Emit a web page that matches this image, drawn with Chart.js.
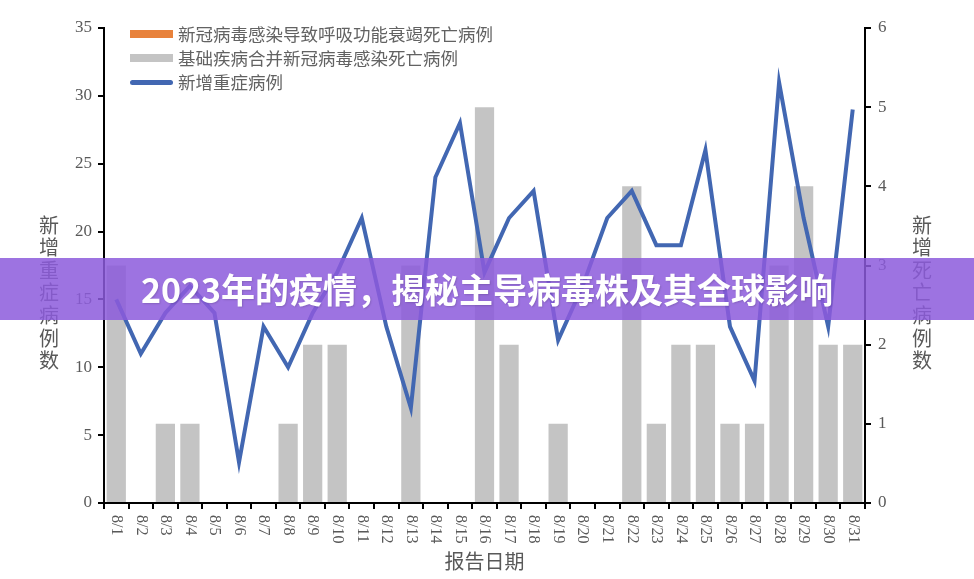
<!DOCTYPE html>
<html>
<head>
<meta charset="utf-8">
<script src="https://cdn.jsdelivr.net/npm/chart.js@4.4.1/dist/chart.umd.min.js"></script>
<style>
  html, body { margin: 0; padding: 0; background: #fff; overflow: hidden; }
  #wrap { position: relative; width: 974px; height: 579px; }
  #c { position: absolute; left: 0; top: 0; }
  .legend { position: absolute; left: 130px; top: 22px; font-family: "Noto Sans CJK SC", sans-serif;
            font-size: 17.5px; color: #626262; line-height: 24px; }
  .legend div { display: flex; align-items: center; height: 24px; }
  .legend span.sw { display: inline-block; width: 43px; margin-right: 5px; }
  .banner { position: absolute; left: 0; top: 258px; width: 974px; height: 62px;
            background: rgba(140, 90, 220, 0.85); color: #fff; text-align: center;
            font-family: "Noto Sans CJK SC", sans-serif; font-weight: bold; font-size: 34px;
            line-height: 62px; text-shadow: 1px 1px 2px rgba(0,0,0,0.15); }
</style>
</head>
<body>
<div id="wrap">
  <canvas id="c" width="974" height="579"></canvas>
  <div class="legend">
    <div><span class="sw" style="height:8px;background:#e8823c"></span>新冠病毒感染导致呼吸功能衰竭死亡病例</div>
    <div><span class="sw" style="height:8px;background:#c4c4c4"></span>基础疾病合并新冠病毒感染死亡病例</div>
    <div><span class="sw" style="height:5px;background:#4267b2;border-radius:3px"></span>新增重症病例</div>
  </div>
  <div class="banner">2023年的疫情，揭秘主导病毒株及其全球影响</div>
</div>
<script>
// 8月每日报告：新增重症（左轴）与新增死亡（右轴）

const dates = ['8/1', '8/2', '8/3', '8/4', '8/5', '8/6', '8/7', '8/8', '8/9', '8/10',
  '8/11', '8/12', '8/13', '8/14', '8/15', '8/16', '8/17', '8/18', '8/19', '8/20',
  '8/21', '8/22', '8/23', '8/24', '8/25', '8/26', '8/27', '8/28', '8/29', '8/30', '8/31'];

const severeCases = [15, 11, 14, 16, 14, 3, 13, 10, 14, 17,
  21, 13, 7, 24, 28, 17, 21, 23, 12, 16,
  21, 23, 19, 19, 26, 13, 9, 31, 21, 13, 29];

const respiratoryDeaths = [0, 0, 0, 0, 0, 0, 0, 0, 0, 0,
  0, 0, 0, 0, 0, 0, 0, 0, 0, 0,
  0, 0, 0, 0, 0, 0, 0, 0, 0, 0, 0];

const comorbidDeaths = [3, 0, 1, 1, 0, 0, 0, 1, 2, 2,
  0, 0, 3, 0, 0, 5, 2, 0, 1, 0,
  0, 4, 1, 2, 2, 1, 1, 3, 4, 2, 2];

const leftTicks = [0, 5, 10, 15, 20, 25, 30, 35];
const rightTicks = [0, 1, 2, 3, 4, 5, 6];

const leftTitle = '新增重症病例数';
const rightTitle = '新增死亡病例数';
const xTitle = '报告日期';

const TEXT = '#595959';
const SERIF = '"Liberation Serif", "Times New Roman", serif';
const CJK = '"Noto Sans CJK SC", sans-serif';

// x labels run top-to-bottom (rotated clockwise) and the y titles are
// stacked upright characters, which Chart.js can't do on its own.
const axisText = {
  id: 'axisText',
  afterDraw(chart) {
    const ctx = chart.ctx;
    const xs = chart.scales.x;
    const area = chart.chartArea;
    ctx.save();
    ctx.fillStyle = TEXT;
    ctx.font = '16px ' + SERIF;
    ctx.textAlign = 'left';
    ctx.textBaseline = 'middle';
    dates.forEach((d, i) => {
      ctx.save();
      ctx.translate(xs.getPixelForTick(i), area.bottom + 12);
      ctx.rotate(Math.PI / 2);
      ctx.fillText(d, 0, 0);
      ctx.restore();
    });

    ctx.font = '20px ' + CJK;
    ctx.textAlign = 'center';
    ctx.textBaseline = 'top';
    [...leftTitle].forEach((ch, i) => ctx.fillText(ch, 49, 215 + i * 22.6));
    [...rightTitle].forEach((ch, i) => ctx.fillText(ch, 922, 215 + i * 22.6));
    ctx.fillText(xTitle, (area.left + area.right) / 2, 551);
    ctx.restore();
  },
};

const axisLine = { color: '#000', width: 2 };
const tickMarks = { drawOnChartArea: false, color: '#000', lineWidth: 2, tickLength: 6 };

new Chart(document.getElementById('c'), {
  data: {
    labels: dates,
    datasets: [
      {
        type: 'line',
        label: '新增重症病例',
        data: severeCases,
        yAxisID: 'y',
        borderColor: '#4267b2',
        borderWidth: 4,
        pointRadius: 0,
        tension: 0,
        order: 0,
      },
      {
        type: 'bar',
        label: '新冠病毒感染导致呼吸功能衰竭死亡病例',
        data: respiratoryDeaths,
        yAxisID: 'y1',
        backgroundColor: '#e8823c',
        categoryPercentage: 0.8,
        barPercentage: 0.98,
        order: 2,
      },
      {
        type: 'bar',
        label: '基础疾病合并新冠病毒感染死亡病例',
        data: comorbidDeaths,
        yAxisID: 'y1',
        backgroundColor: '#c4c4c4',
        categoryPercentage: 0.8,
        barPercentage: 0.98,
        order: 1,
      },
    ],
  },
  options: {
    responsive: false,
    animation: false,
    layout: { padding: { top: 28, left: 0, right: 0, bottom: 0 } },
    plugins: { legend: { display: false }, tooltip: { enabled: false } },
    scales: {
      x: {
        stacked: true,
        offset: true,
        border: axisLine,
        grid: { ...tickMarks, offset: true },
        ticks: { display: false },
        afterFit: (s) => { s.height = 76; },
      },
      y: {
        position: 'left',
        min: leftTicks[0],
        max: leftTicks[leftTicks.length - 1],
        afterBuildTicks: (s) => { s.ticks = leftTicks.map((v) => ({ value: v })); },
        border: axisLine,
        grid: tickMarks,
        ticks: { color: TEXT, padding: 6, font: { family: SERIF, size: 17 } },
        afterFit: (s) => { s.width = 104; },
      },
      y1: {
        position: 'right',
        stacked: true,
        min: rightTicks[0],
        max: rightTicks[rightTicks.length - 1],
        afterBuildTicks: (s) => { s.ticks = rightTicks.map((v) => ({ value: v })); },
        border: axisLine,
        grid: tickMarks,
        ticks: { color: TEXT, padding: 7, font: { family: SERIF, size: 17 } },
        afterFit: (s) => { s.width = 109; },
      },
    },
  },
  plugins: [axisText],
});
</script>
</body>
</html>
